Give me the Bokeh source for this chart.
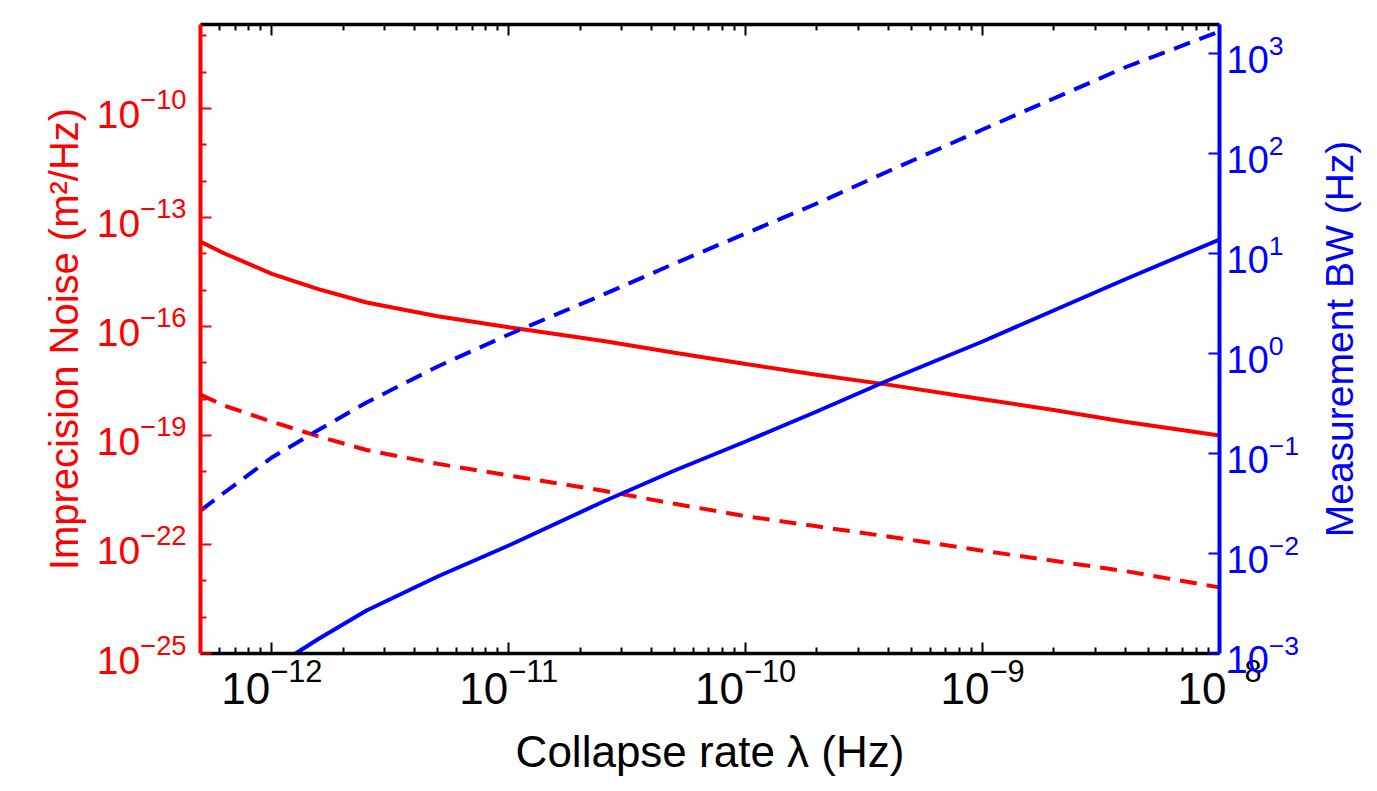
import numpy as np
from bokeh.plotting import figure
from bokeh.models import (Range1d, LogScale, LogAxis, FixedTicker, LogTickFormatter,
                          Label)
from bokeh.embed import file_html
from bokeh.resources import INLINE

# ---- data (log10 values) ----------------------------------------------
# collapse rate, log10(lambda / Hz)
lam_exp = [-12.30, -12.20, -12.00, -11.80, -11.60, -11.30, -11.00, -10.60,
           -10.30, -10.00, -9.70, -9.40, -9.00, -8.70, -8.40, -8.00]
# imprecision noise, log10(S / (m^2/Hz))
noise_solid_exp = [-13.67, -13.99, -14.55, -14.98, -15.34, -15.72, -16.02, -16.40,
                   -16.72, -17.03, -17.33, -17.60, -18.00, -18.30, -18.62, -19.00]
noise_dashed_exp = [-17.88, -18.18, -18.62, -19.03, -19.40, -19.78, -20.10, -20.52,
                    -20.88, -21.22, -21.50, -21.78, -22.17, -22.45, -22.73, -23.18]
# measurement bandwidth, log10(BW / Hz)
bw_dashed_exp = [-1.57, -1.39, -1.04, -0.76, -0.49, -0.13, 0.19, 0.59,
                 0.90, 1.20, 1.50, 1.82, 2.24, 2.55, 2.86, 3.22]
bw_solid_lam_exp = [-12.00, -11.90, -11.80, -11.60, -11.30, -11.00, -10.60, -10.30,
                    -10.00, -9.70, -9.40, -9.00, -8.70, -8.40, -8.00]
bw_solid_exp = [-3.16, -3.00, -2.85, -2.57, -2.23, -1.92, -1.48, -1.17,
                -0.88, -0.58, -0.27, 0.12, 0.43, 0.74, 1.14]

# axis ticks (decades)
x_tick_exp = [-12, -11, -10, -9, -8]
noise_tick_exp = [-25, -22, -19, -16, -13, -10]
bw_tick_exp = [-3, -2, -1, 0, 1, 2, 3]

X_MIN, X_MAX = 5e-13, 1e-8
NOISE_MIN, NOISE_MAX = 1e-25, 2.05e-8
BW_MIN, BW_MAX = 1e-3, 1950.0
FRAME_H = 629

RED = "#ff0000"
BLUE = "#0000ff"
FONT = "Liberation Sans"


def dec(e, m=1):
    return float(f"{m}e{e}")


p = figure(width=1377, height=791, x_axis_type="log", y_axis_type="log",
           x_range=Range1d(X_MIN, X_MAX), y_range=Range1d(NOISE_MIN, NOISE_MAX),
           min_border_left=200, min_border_right=158, min_border_top=24,
           min_border_bottom=138, output_backend="svg", toolbar_location=None,
           background_fill_color="white", border_fill_color="white")
p.extra_y_ranges = {"bw": Range1d(BW_MIN, BW_MAX)}
p.extra_y_scales = {"bw": LogScale()}
p.xgrid.visible = False
p.ygrid.visible = False
p.outline_line_color = None

# ---- tickers --------------------------------------------------------------
x_minor = [dec(e, m) for e in range(-13, -8) for m in range(2, 10)
           if X_MIN < dec(e, m) < X_MAX]
x_ticker = FixedTicker(ticks=[dec(e) for e in x_tick_exp], minor_ticks=x_minor)
noise_ticker = FixedTicker(ticks=[dec(e) for e in noise_tick_exp],
                           minor_ticks=[dec(e) for e in range(-24, -7)
                                        if e not in noise_tick_exp])
bw_ticker = FixedTicker(ticks=[dec(e) for e in bw_tick_exp], minor_ticks=[])


def style_axis(ax, color, width, ticker, label_size=None, standoff=0, minor=True):
    ax.ticker = ticker
    ax.formatter = LogTickFormatter()
    ax.axis_line_color = color
    ax.axis_line_width = width
    ax.major_tick_line_color = color
    ax.major_tick_line_width = 2
    ax.major_tick_in = 11
    ax.major_tick_out = 0
    ax.minor_tick_line_color = color if minor else None
    ax.minor_tick_line_width = 2
    ax.minor_tick_in = 6
    ax.minor_tick_out = 0
    ax.major_label_standoff = standoff
    ax.axis_label_text_font = FONT
    ax.axis_label_text_font_style = "normal"
    ax.axis_label_text_color = color
    if label_size is None:
        ax.major_label_text_color = None
        ax.major_label_text_font_size = "0px"
    else:
        ax.major_label_text_color = color
        ax.major_label_text_font = FONT
        ax.major_label_text_font_size = label_size


bottom_axis = p.xaxis[0]
style_axis(bottom_axis, "black", 3.5, x_ticker, "44px", standoff=4)
bottom_axis.axis_label = "Collapse rate λ (Hz)"
bottom_axis.axis_label_text_font_size = "44px"
bottom_axis.axis_label_standoff = 20

left_axis = p.yaxis[0]
style_axis(left_axis, RED, 4, noise_ticker, "39px", standoff=14)
left_axis.axis_label = "Imprecision Noise (m²/Hz)"
left_axis.axis_label_text_font_size = "40px"
left_axis.axis_label_standoff = 8

top_axis = LogAxis()
style_axis(top_axis, "black", 3.5, x_ticker)
p.add_layout(top_axis, "above")

right_axis = LogAxis(y_range_name="bw")
style_axis(right_axis, BLUE, 4, bw_ticker, "38px", standoff=7, minor=False)
p.add_layout(right_axis, "right")

# right-hand title, reading upwards, placed in the right panel beside the axis
bw_title = Label(x=X_MAX, y=NOISE_MIN, x_offset=120, y_offset=FRAME_H / 2,
                 text="Measurement BW (Hz)", angle=np.pi / 2,
                 text_font=FONT, text_font_size="39px", text_color=BLUE,
                 text_align="center", text_baseline="alphabetic")
p.add_layout(bw_title, "right")

# ---- curves ---------------------------------------------------------------
lam = 10 ** np.array(lam_exp)
p.line(lam, 10 ** np.array(noise_solid_exp), line_color=RED, line_width=4)
p.line(lam, 10 ** np.array(noise_dashed_exp), line_color=RED, line_width=4,
       line_dash="17 10")
p.line(lam, 10 ** np.array(bw_dashed_exp), line_color=BLUE, line_width=4,
       line_dash="17 10", y_range_name="bw")
p.line(10 ** np.array(bw_solid_lam_exp), 10 ** np.array(bw_solid_exp),
       line_color=BLUE, line_width=4, y_range_name="bw")

open("out.html", "w").write(file_html(p, INLINE))
